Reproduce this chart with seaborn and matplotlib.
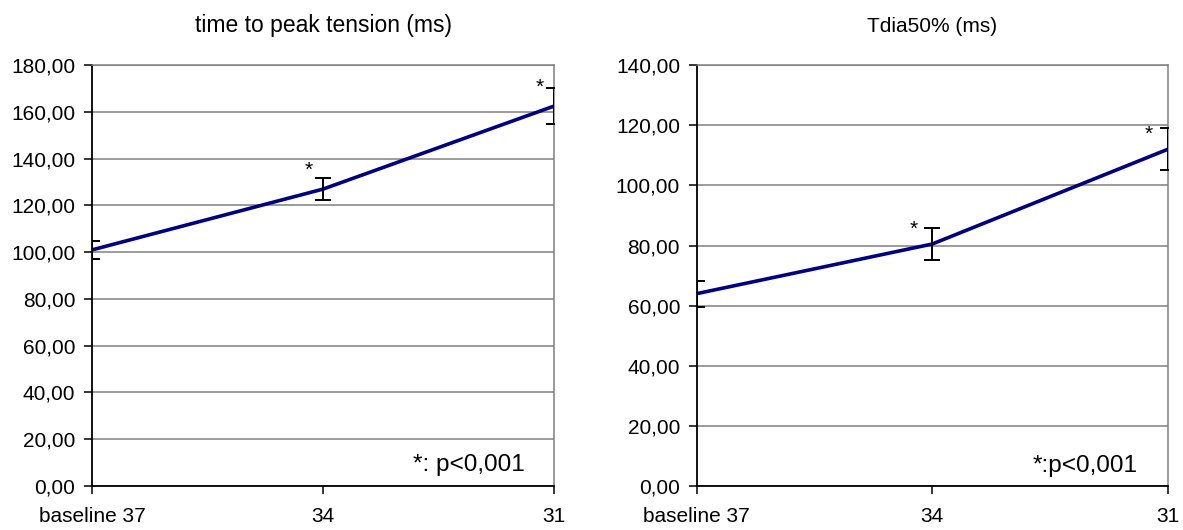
import matplotlib
matplotlib.use("Agg")
import matplotlib.pyplot as plt
from matplotlib.ticker import FuncFormatter, MultipleLocator
import seaborn as sns
import pandas as pd

# Temperature steps (categories on the x axis)
conditions = ["baseline 37", "34", "31"]

# Time to peak tension (ms): mean and error
ttp_mean = [101.0, 127.0, 162.5]
ttp_err = [4.0, 4.8, 7.7]
ttp_sig = [False, True, True]

# Tdia50% (ms): mean and error
tdia_mean = [64.0, 80.5, 112.0]
tdia_err = [4.3, 5.2, 7.0]
tdia_sig = [False, True, True]

sns.set_style("white")
plt.rcParams["font.family"] = ["Liberation Sans", "DejaVu Sans"]
plt.rcParams["text.color"] = "black"
plt.rcParams["axes.labelcolor"] = "black"
plt.rcParams["xtick.color"] = "black"
plt.rcParams["ytick.color"] = "black"

LINE = "#000080"
GRID = "#808080"

fig = plt.figure(figsize=(11.83, 5.30), dpi=100)
ax1 = fig.add_axes([0.0778, 0.083, 0.3905, 0.794])
ax2 = fig.add_axes([0.589, 0.083, 0.398, 0.794])


def comma_fmt(v, _pos):
    return f"{v:.2f}".replace(".", ",")


def panel(ax, title, title_size, means, errs, sig, ymax, ystep, note,
          note_y, star_dx, star_dy):
    df = pd.DataFrame({"pos": range(len(conditions)), "value": means})
    sns.lineplot(data=df, x="pos", y="value", ax=ax, color=LINE,
                 linewidth=2.6, zorder=3)
    ax.errorbar(df["pos"], df["value"], yerr=errs, fmt="none",
                ecolor="black", elinewidth=1.4, capsize=5.5,
                capthick=1.4, zorder=4)
    for x, y, s in zip(df["pos"], means, sig):
        if s:
            ax.text(x + star_dx, y + star_dy, "*", ha="center", va="center",
                    fontsize=15, color="black")

    ax.set_xlim(0, len(conditions) - 1)
    ax.set_ylim(0, ymax)
    ax.set_xticks(range(len(conditions)))
    ax.set_xticklabels(conditions)
    ax.yaxis.set_major_locator(MultipleLocator(ystep))
    ax.yaxis.set_major_formatter(FuncFormatter(comma_fmt))
    ax.set_xlabel("")
    ax.set_ylabel("")
    ax.set_title(title, fontsize=title_size, pad=24, color="black")

    ax.yaxis.grid(True, color=GRID, linewidth=1.1)
    ax.set_axisbelow(True)
    for side in ("top", "right"):
        ax.spines[side].set_visible(True)
        ax.spines[side].set_color(GRID)
        ax.spines[side].set_linewidth(1.1)
    for side in ("left", "bottom"):
        ax.spines[side].set_color("black")
        ax.spines[side].set_linewidth(1.3)

    ax.tick_params(axis="both", which="major", direction="out", length=6,
                   width=1.1, color="black", labelcolor="black",
                   labelsize=15, pad=6, left=True, bottom=True)
    ax.tick_params(axis="x", pad=9)

    ax.text(0.937, note_y, note, transform=ax.transAxes, ha="right",
            va="center", fontsize=17.5, color="black")


panel(ax1, "time to peak tension (ms)", 16.5, ttp_mean, ttp_err, ttp_sig,
      180, 20, "*: p<0,001", 0.05, -0.06, 8.0)
panel(ax2, "Tdia50% (ms)", 15, tdia_mean, tdia_err, tdia_sig,
      140, 20, "*:p<0,001", 0.047, -0.08, 5.0)

fig.savefig("out.png", dpi=100)
